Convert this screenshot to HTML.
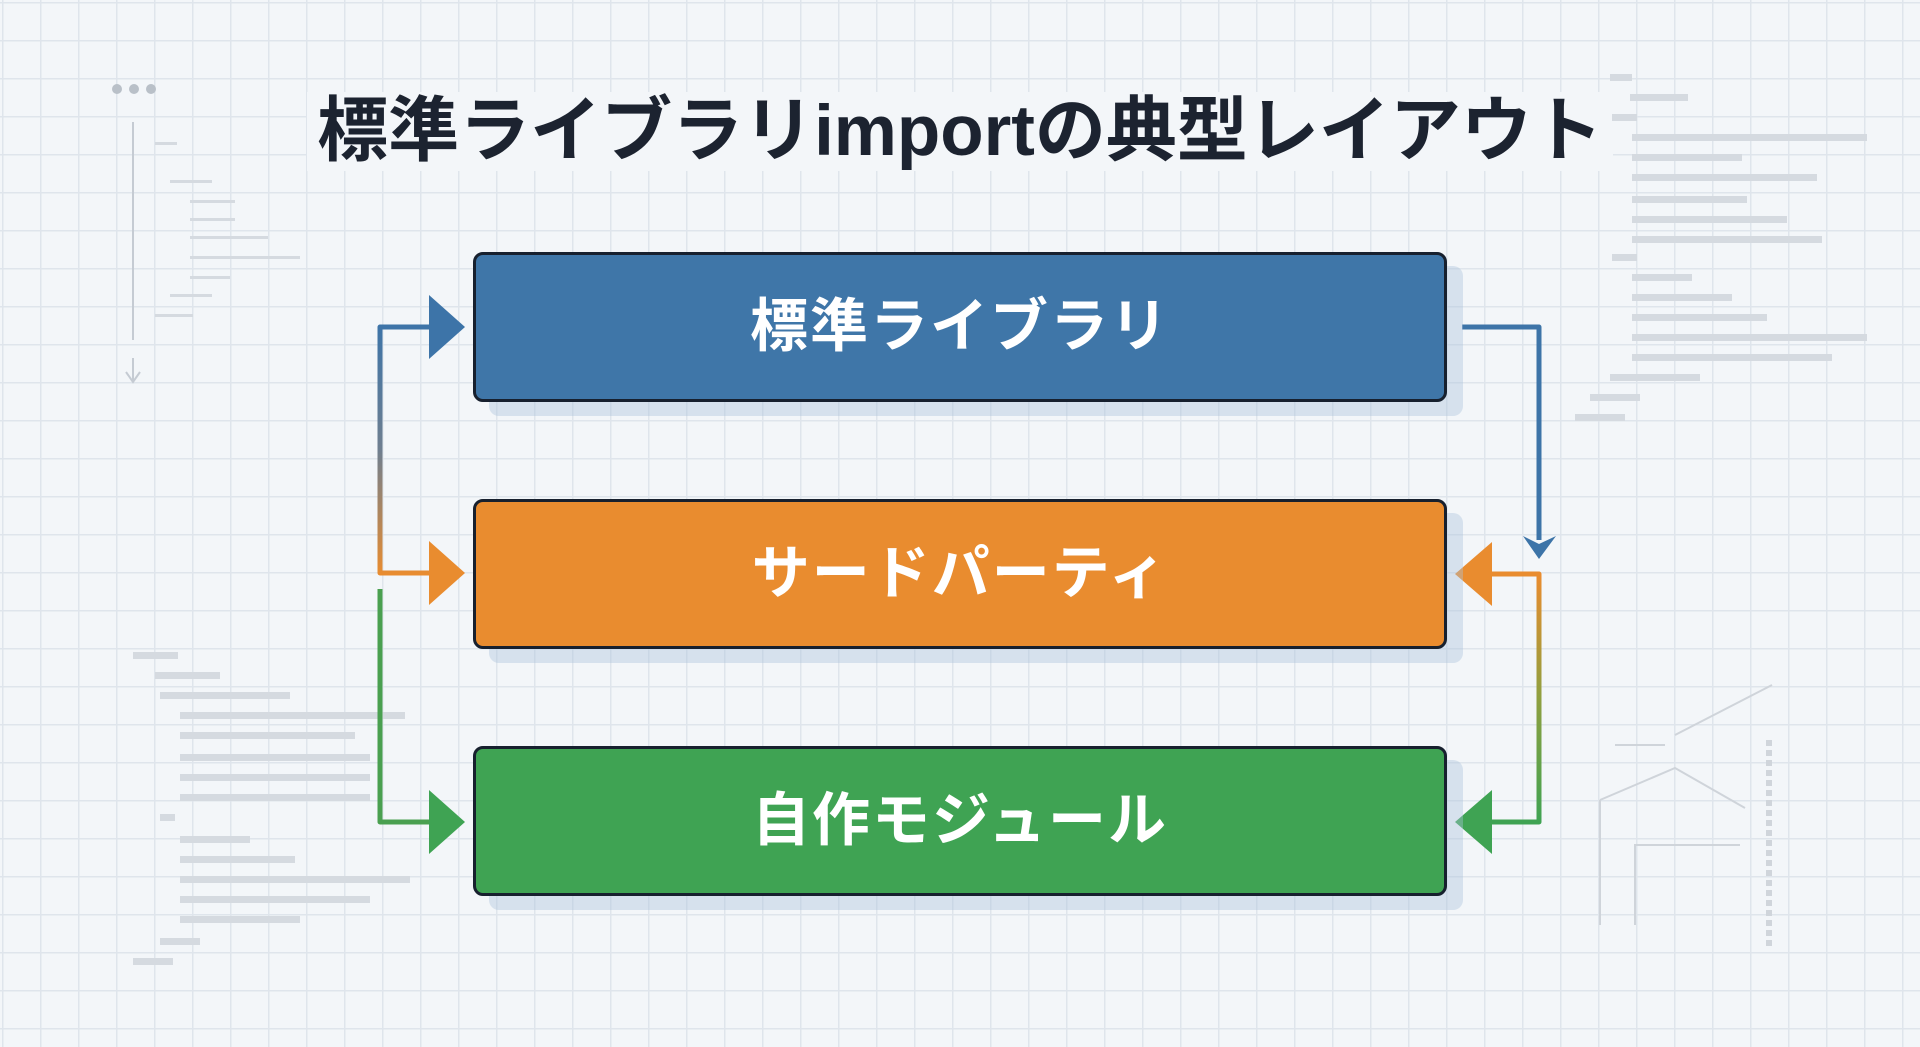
<!DOCTYPE html>
<html><head><meta charset="utf-8"><style>
html,body{margin:0;padding:0}
body{width:1920px;height:1047px;overflow:hidden;position:relative;
background-color:#f3f6f9;
background-image:linear-gradient(to right,#dfe5ec 1.5px,transparent 1.5px),linear-gradient(to bottom,#dfe5ec 1.5px,transparent 1.5px);
background-size:38px 38px;background-position:2px 2px;
font-family:"Liberation Sans","Noto Sans CJK JP",sans-serif;}
.title{position:absolute;left:0;width:1920px;top:86px;text-align:center;font-size:71px;font-weight:bold;color:#1c2330;line-height:92px}
.title span{background:#f3f6f9;padding:0 10px}
.box{position:absolute;left:473px;width:968px;height:144px;border:3px solid #17202e;border-radius:10px;box-shadow:16px 14px 0 rgba(170,195,220,0.4);color:#fff;font-weight:bold;font-size:58px;text-align:center;line-height:144px;letter-spacing:2px}
</style></head><body>
<div class="title"><span>標準ライブラリimportの典型レイアウト</span></div>

<svg width="1920" height="1047" style="position:absolute;left:0;top:0">
 <g fill="#b9c0c8"><circle cx="117" cy="89" r="5"/><circle cx="134" cy="89" r="5"/><circle cx="151" cy="89" r="5"/></g>
 <line x1="133" y1="122" x2="133" y2="340" stroke="#c5cbd3" stroke-width="2"/>
 <path d="M126 372 L133 382 L140 372 M133 358 V382" stroke="#c5cbd3" stroke-width="2" fill="none"/>
 <g fill="#d5dae0">
  <rect x="155" y="142" width="22" height="3"/><rect x="170" y="180" width="42" height="3"/><rect x="190" y="200" width="45" height="3"/>
  <rect x="190" y="218" width="45" height="3"/><rect x="190" y="236" width="78" height="3"/><rect x="190" y="256" width="110" height="3"/>
  <rect x="190" y="276" width="40" height="3"/><rect x="170" y="294" width="42" height="3"/><rect x="155" y="314" width="38" height="3"/>
  <rect x="133" y="652" width="45" height="7"/><rect x="155" y="672" width="65" height="7"/><rect x="160" y="692" width="130" height="7"/>
  <rect x="180" y="712" width="225" height="7"/><rect x="180" y="732" width="175" height="7"/><rect x="180" y="754" width="190" height="7"/>
  <rect x="180" y="774" width="190" height="7"/><rect x="180" y="794" width="190" height="7"/><rect x="160" y="814" width="15" height="7"/>
  <rect x="180" y="836" width="70" height="7"/><rect x="180" y="856" width="115" height="7"/><rect x="180" y="876" width="230" height="7"/>
  <rect x="180" y="896" width="190" height="7"/><rect x="180" y="916" width="120" height="7"/><rect x="160" y="938" width="40" height="7"/><rect x="133" y="958" width="40" height="7"/>
  <rect x="1610" y="74" width="22" height="7"/><rect x="1630" y="94" width="58" height="7"/><rect x="1612" y="114" width="25" height="7"/>
  <rect x="1632" y="134" width="235" height="7"/><rect x="1632" y="154" width="110" height="7"/><rect x="1632" y="174" width="185" height="7"/>
  <rect x="1632" y="196" width="115" height="7"/><rect x="1632" y="216" width="155" height="7"/><rect x="1632" y="236" width="190" height="7"/>
  <rect x="1612" y="254" width="25" height="7"/><rect x="1632" y="274" width="60" height="7"/><rect x="1632" y="294" width="100" height="7"/>
  <rect x="1632" y="314" width="135" height="7"/><rect x="1632" y="334" width="235" height="7"/><rect x="1632" y="354" width="200" height="7"/>
  <rect x="1610" y="374" width="90" height="7"/><rect x="1590" y="394" width="50" height="7"/><rect x="1575" y="414" width="50" height="7"/>
 </g>
 <line x1="1769" y1="740" x2="1769" y2="950" stroke="#d0d5db" stroke-width="6" stroke-dasharray="6 4"/>
 <g stroke="#cfd4da" stroke-width="2" fill="none">
  <path d="M1600 800 L1675 768 L1745 808"/><path d="M1600 925 V800"/><path d="M1635 925 V845 H1740"/><path d="M1675 735 L1772 685"/><path d="M1615 745 H1665"/>
 </g>
 <defs>
  <linearGradient id="lg1" x1="0" y1="325" x2="0" y2="575" gradientUnits="userSpaceOnUse"><stop offset="0" stop-color="#3d74a8"/><stop offset="0.5" stop-color="#6f7f90"/><stop offset="1" stop-color="#e98c2f"/></linearGradient>
  <linearGradient id="lg2" x1="0" y1="575" x2="0" y2="822" gradientUnits="userSpaceOnUse"><stop offset="0" stop-color="#e98c2f"/><stop offset="0.5" stop-color="#8fa040"/><stop offset="1" stop-color="#3fa353"/></linearGradient>
 </defs>
 <g fill="none" stroke-width="5" stroke-linejoin="round">
  <path d="M432 327 H380 V573 H432" stroke="url(#lg1)"/>
  <path d="M380 589 V822 H432" stroke="#4aa050"/>
  <path d="M1462 327 H1539 V540" stroke="#3d74a8"/>
  <path d="M1490 574 H1539 V822 H1490" stroke="url(#lg2)"/>
 </g>
 <polygon points="429,295 465,327 429,359" fill="#3d74a8"/>
 <polygon points="429,541 465,573 429,605" fill="#e98c2f"/>
 <polygon points="429,790 465,822 429,854" fill="#3fa353"/>
 <polygon points="1523,536 1539,559 1556,536 1539,544" fill="#3d74a8"/>
 <polygon points="1492,542 1455,574 1492,606" fill="#e98c2f"/>
 <polygon points="1492,790 1455,822 1492,854" fill="#3fa353"/>
</svg>

<div class="box" style="top:252px;background:#3f76a8">標準ライブラリ</div>
<div class="box" style="top:499px;background:#e98c2f">サードパーティ</div>
<div class="box" style="top:746px;background:#3fa353">自作モジュール</div>
</body></html>
